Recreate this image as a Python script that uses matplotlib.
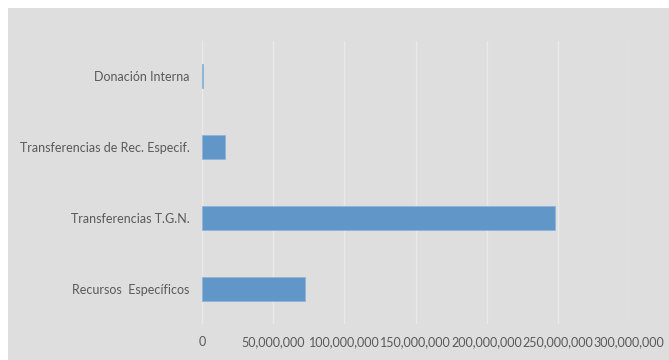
import matplotlib.pyplot as plt
from matplotlib.ticker import FuncFormatter

categorias = ['Recursos  Específicos', 'Transferencias T.G.N.',
              'Transferencias de Rec. Especif.', 'Donación Interna']
montos = [72300000, 247700000, 16300000, 900000]
ticks = [0, 50000000, 100000000, 150000000, 200000000, 250000000, 300000000]

plt.rcParams['font.family'] = ['Lato', 'DejaVu Sans']

fig = plt.figure(figsize=(6.69, 3.6), dpi=100)
# fondo gris del area del grafico
fondo = fig.add_axes([8 / 669, 0, 1 - 8 / 669, 1 - 8 / 360], zorder=-1)
fondo.set_facecolor('#dedede')
fondo.set_xticks([])
fondo.set_yticks([])
for s in fondo.spines.values():
    s.set_visible(False)

ax = fig.add_axes([202 / 669, 1 - 324 / 360, 427 / 669, 283 / 360])
ax.set_facecolor('#dedede')

ax.barh(range(len(categorias)), montos, height=0.34, color='#6096c8',
        edgecolor='#8fb4da', linewidth=0.6, zorder=3)

ax.set_xlim(0, 300000000)
ax.set_ylim(-0.5, len(categorias) - 0.5)
ax.set_xticks(ticks)
ax.xaxis.set_major_formatter(FuncFormatter(lambda v, p: f'{int(v):,}'))
ax.set_yticks(range(len(categorias)))
ax.set_yticklabels(categorias)

ax.grid(axis='x', color='#e9e9e9', linewidth=1, zorder=0)
for s in ax.spines.values():
    s.set_visible(False)
ax.tick_params(length=0, labelcolor='#595959', labelsize=9)
ax.tick_params(axis='x', pad=9)
ax.tick_params(axis='y', pad=9)

fig.savefig('out.png', dpi=100)
